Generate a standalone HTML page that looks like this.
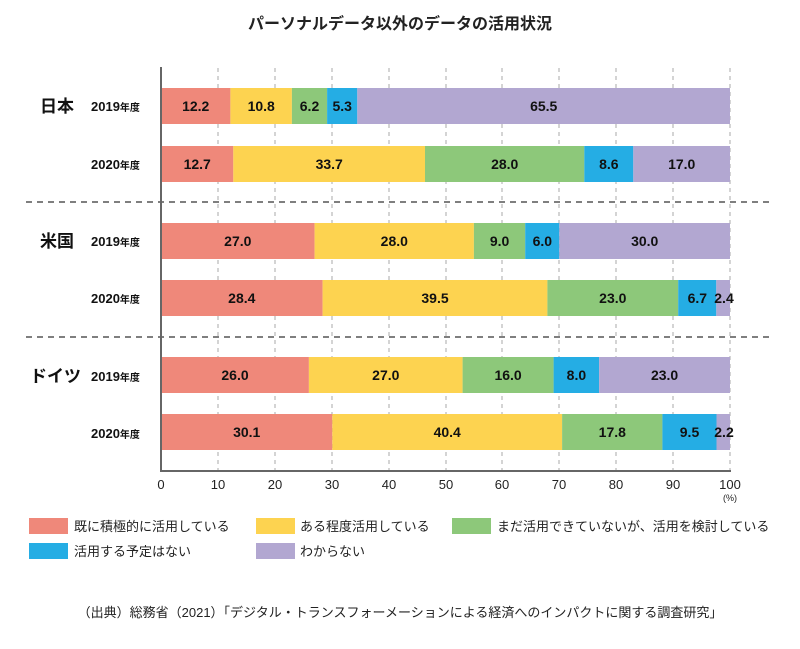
<!DOCTYPE html>
<html><head><meta charset="utf-8"><style>
body{margin:0;background:#fff;}
svg text{font-family:"Liberation Sans","Noto Sans CJK JP",sans-serif;}
</style></head><body>
<svg width="800" height="644" viewBox="0 0 800 644" xmlns="http://www.w3.org/2000/svg">
<text x="400" y="29" text-anchor="middle" font-size="16" font-weight="bold" fill="#222">パーソナルデータ以外のデータの活用状況</text>
<g stroke="#aaa" stroke-dasharray="4,4" stroke-width="1">
<line x1="218" y1="68" x2="218" y2="470"/><line x1="275" y1="68" x2="275" y2="470"/><line x1="332" y1="68" x2="332" y2="470"/><line x1="389" y1="68" x2="389" y2="470"/><line x1="446" y1="68" x2="446" y2="470"/><line x1="502" y1="68" x2="502" y2="470"/><line x1="559" y1="68" x2="559" y2="470"/><line x1="616" y1="68" x2="616" y2="470"/><line x1="673" y1="68" x2="673" y2="470"/><line x1="730" y1="68" x2="730" y2="470"/>
</g>
<g stroke="#555" stroke-dasharray="6,5" stroke-width="1.5">
<line x1="26" y1="202" x2="770" y2="202"/><line x1="26" y1="337" x2="770" y2="337"/>
</g>
<g>
<rect x="161" y="88" width="69.4" height="36" fill="#ef887a"/><rect x="230.4" y="88" width="61.5" height="36" fill="#fdd350"/><rect x="291.9" y="88" width="35.2" height="36" fill="#8dc87a"/><rect x="327.1" y="88" width="30.2" height="36" fill="#25ade4"/><rect x="357.3" y="88" width="372.7" height="36" fill="#b2a7d1"/>
<rect x="161" y="146" width="72.3" height="36" fill="#ef887a"/><rect x="233.3" y="146" width="191.7" height="36" fill="#fdd350"/><rect x="425" y="146" width="159.3" height="36" fill="#8dc87a"/><rect x="584.3" y="146" width="49" height="36" fill="#25ade4"/><rect x="633.3" y="146" width="96.7" height="36" fill="#b2a7d1"/>
<rect x="161" y="223" width="153.6" height="36" fill="#ef887a"/><rect x="314.6" y="223" width="159.3" height="36" fill="#fdd350"/><rect x="473.9" y="223" width="51.3" height="36" fill="#8dc87a"/><rect x="525.2" y="223" width="34.1" height="36" fill="#25ade4"/><rect x="559.3" y="223" width="170.7" height="36" fill="#b2a7d1"/>
<rect x="161" y="280" width="161.6" height="36" fill="#ef887a"/><rect x="322.6" y="280" width="224.8" height="36" fill="#fdd350"/><rect x="547.4" y="280" width="130.8" height="36" fill="#8dc87a"/><rect x="678.2" y="280" width="38.1" height="36" fill="#25ade4"/><rect x="716.3" y="280" width="13.7" height="36" fill="#b2a7d1"/>
<rect x="161" y="357" width="147.9" height="36" fill="#ef887a"/><rect x="308.9" y="357" width="153.7" height="36" fill="#fdd350"/><rect x="462.6" y="357" width="91" height="36" fill="#8dc87a"/><rect x="553.6" y="357" width="45.5" height="36" fill="#25ade4"/><rect x="599.1" y="357" width="130.9" height="36" fill="#b2a7d1"/>
<rect x="161" y="414" width="171.3" height="36" fill="#ef887a"/><rect x="332.3" y="414" width="229.8" height="36" fill="#fdd350"/><rect x="562.1" y="414" width="100.3" height="36" fill="#8dc87a"/><rect x="662.4" y="414" width="54.1" height="36" fill="#25ade4"/><rect x="716.5" y="414" width="13.5" height="36" fill="#b2a7d1"/>
</g>
<g font-size="14" font-weight="bold" fill="#111" text-anchor="middle">
<text x="195.7" y="111">12.2</text><text x="261.2" y="111">10.8</text><text x="309.5" y="111">6.2</text><text x="342.2" y="111">5.3</text><text x="543.7" y="111">65.5</text>
<text x="197.2" y="169">12.7</text><text x="329.2" y="169">33.7</text><text x="504.7" y="169">28.0</text><text x="608.8" y="169">8.6</text><text x="681.7" y="169">17.0</text>
<text x="237.8" y="246">27.0</text><text x="394.3" y="246">28.0</text><text x="499.6" y="246">9.0</text><text x="542.3" y="246">6.0</text><text x="644.7" y="246">30.0</text>
<text x="241.8" y="303">28.4</text><text x="435" y="303">39.5</text><text x="612.8" y="303">23.0</text><text x="697.3" y="303">6.7</text><text x="724" y="303">2.4</text>
<text x="235" y="380">26.0</text><text x="385.8" y="380">27.0</text><text x="508.1" y="380">16.0</text><text x="576.4" y="380">8.0</text><text x="664.6" y="380">23.0</text>
<text x="246.7" y="437">30.1</text><text x="447.2" y="437">40.4</text><text x="612.3" y="437">17.8</text><text x="689.5" y="437">9.5</text><text x="724" y="437">2.2</text>
</g>
<line x1="161" y1="67" x2="161" y2="471" stroke="#666" stroke-width="2"/>
<line x1="160" y1="471" x2="731" y2="471" stroke="#666" stroke-width="2"/>
<g font-size="13" fill="#222" text-anchor="middle">
<text x="161" y="489">0</text><text x="218" y="489">10</text><text x="275" y="489">20</text><text x="332" y="489">30</text><text x="389" y="489">40</text><text x="446" y="489">50</text><text x="502" y="489">60</text><text x="559" y="489">70</text><text x="616" y="489">80</text><text x="673" y="489">90</text><text x="730" y="489">100</text>
<text x="730" y="501" font-size="9">(%)</text>
</g>
<g font-size="17" font-weight="bold" fill="#111">
<text x="40" y="112">日本</text><text x="40" y="247">米国</text><text x="30" y="382">ドイツ</text>
</g>
<g font-size="13" font-weight="bold" fill="#111">
<text x="91" y="111">2019<tspan font-size="10">年度</tspan></text>
<text x="91" y="169">2020<tspan font-size="10">年度</tspan></text>
<text x="91" y="246">2019<tspan font-size="10">年度</tspan></text>
<text x="91" y="303">2020<tspan font-size="10">年度</tspan></text>
<text x="91" y="381">2019<tspan font-size="10">年度</tspan></text>
<text x="91" y="438">2020<tspan font-size="10">年度</tspan></text>
</g>
<g font-size="13" fill="#222">
<rect x="29" y="518" width="39" height="16" fill="#ef887a"/><text x="74" y="531">既に積極的に活用している</text>
<rect x="256" y="518" width="39" height="16" fill="#fdd350"/><text x="300" y="531">ある程度活用している</text>
<rect x="452" y="518" width="39" height="16" fill="#8dc87a"/><text x="497" y="531">まだ活用できていないが、活用を検討している</text>
<rect x="29" y="543" width="39" height="16" fill="#25ade4"/><text x="74" y="556">活用する予定はない</text>
<rect x="256" y="543" width="39" height="16" fill="#b2a7d1"/><text x="300" y="556">わからない</text>
</g>
<text x="400" y="617" text-anchor="middle" font-size="13" fill="#222">（出典）総務省（2021）「デジタル・トランスフォーメーションによる経済へのインパクトに関する調査研究」</text>
</svg>
</body></html>
